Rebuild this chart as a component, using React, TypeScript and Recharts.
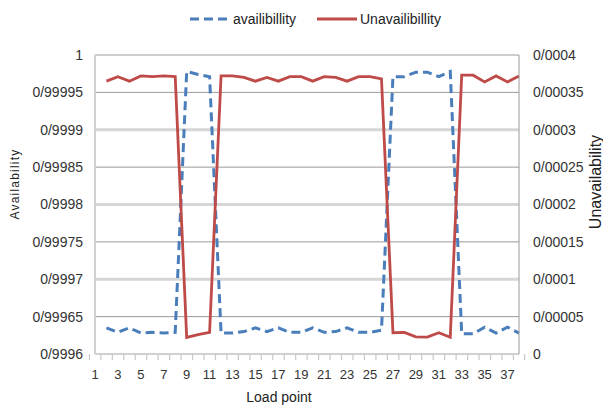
import React from "react";
import { LineChart, Line, XAxis, YAxis, CartesianGrid, ReferenceLine } from "recharts";

const categories = [1, 2, 3, 4, 5, 6, 7, 8, 9, 10, 11, 12, 13, 14, 15, 16, 17, 18, 19, 20, 21, 22, 23, 24, 25, 26, 27, 28, 29, 30, 31, 32, 33, 34, 35, 36, 37, 38];

const availability: (number | null)[] = [
  null, 0.999635, 0.999629, 0.999635, 0.999628, 0.999629, 0.999628, 0.999629,
  0.999978, 0.999974, 0.999971, 0.999628, 0.999628, 0.99963, 0.999635, 0.99963,
  0.999635, 0.999629, 0.999629, 0.999635, 0.999629, 0.99963, 0.999635, 0.999629,
  0.999629, 0.999632, 0.999971, 0.999971, 0.999977, 0.999977, 0.999971, 0.999978,
  0.999627, 0.999627, 0.999636, 0.999628, 0.999636, 0.999628,
];

const unavailability: (number | null)[] = [
  null, 0.000365, 0.000371, 0.000365, 0.000372, 0.000371, 0.000372, 0.000371,
  0.0000222, 0.000026, 0.000029, 0.000372, 0.000372, 0.00037, 0.000365, 0.00037,
  0.000365, 0.000371, 0.000371, 0.000365, 0.000371, 0.00037, 0.000365, 0.000371,
  0.000371, 0.000368, 0.0000285, 0.000029, 0.000023, 0.0000227, 0.0000285, 0.0000223,
  0.000373, 0.000373, 0.000364, 0.000372, 0.000364, 0.000372,
];

const leftTicks = [0.9996, 0.99965, 0.9997, 0.99975, 0.9998, 0.99985, 0.9999, 0.99995, 1];
const leftTickLabels = ["0/9996", "0/99965", "0/9997", "0/99975", "0/9998", "0/99985", "0/9999", "0/99995", "1"];
const rightTicks = [0, 0.00005, 0.0001, 0.00015, 0.0002, 0.00025, 0.0003, 0.00035, 0.0004];
const rightTickLabels = ["0", "0/00005", "0/0001", "0/00015", "0/0002", "0/00025", "0/0003", "0/00035", "0/0004"];
const heavyGridTicks = [0.9997, 0.9998, 0.9999];

const data = categories.map((c, i) => ({
  cat: c,
  availability: availability[i],
  unavailability: unavailability[i],
}));

const FONT = "'Liberation Sans', Arial, sans-serif";
const BLUE = "#4A7EBB";
const RED = "#BE4B48";

const XTick = (props: any) => {
  const { x, y, payload, index } = props;
  const half = payload && payload.offset ? payload.offset : 5.58;
  const axisY = y - 14;
  const label = Number(payload.value) % 2 === 1 ? String(payload.value) : "";
  const isLast = index === categories.length - 1;
  return (
    <g>
      <line x1={x - half} x2={x - half} y1={axisY} y2={axisY + 6} stroke="#c8c8c8" strokeWidth={1.2} />
      {isLast && <line x1={x + half} x2={x + half} y1={axisY} y2={axisY + 6} stroke="#c8c8c8" strokeWidth={1.2} />}
      {label && (
        <text x={x} y={y + 11} textAnchor="middle" fontSize={13} fontFamily={FONT} fill="#333">
          {label}
        </text>
      )}
    </g>
  );
};

export default function App() {
  return (
    <div style={{ position: "relative", width: 603, height: 406, background: "#fff" }}>
      <style>{"body{margin:0}"}</style>
      <LineChart width={603} height={406} data={data} margin={{ top: 55, right: 0, bottom: 0, left: 0 }}>
        <CartesianGrid yAxisId="left" vertical={false} stroke="#9a9a9a" strokeWidth={1} />
        {heavyGridTicks.map((t) => (
          <ReferenceLine key={t} yAxisId="left" y={t} stroke="#d6d6d6" strokeWidth={3} />
        ))}
        <XAxis
          dataKey="cat"
          type="category"
          interval={0}
          tick={<XTick />}
          tickLine={false}
          tickSize={6}
          tickMargin={8}
          axisLine={{ stroke: "#d0d0d0", strokeWidth: 2 }}
          height={52}
        />
        <YAxis
          yAxisId="left"
          orientation="left"
          width={95}
          domain={[0.9996, 1]}
          ticks={leftTicks}
          interval={0}
          allowDataOverflow
          tickFormatter={(_v: number, i: number) => leftTickLabels[i]}
          tick={{ fontSize: 14, fontFamily: FONT, fill: "#333" }}
          tickLine={false}
          tickSize={6}
          tickMargin={6}
          axisLine={{ stroke: "#d0d0d0", strokeWidth: 2 }}
        />
        <YAxis
          yAxisId="right"
          orientation="right"
          width={84}
          domain={[0, 0.0004]}
          ticks={rightTicks}
          interval={0}
          allowDataOverflow
          tickFormatter={(_v: number, i: number) => rightTickLabels[i]}
          tick={{ fontSize: 14, fontFamily: FONT, fill: "#333", textAnchor: "start" }}
          tickLine={false}
          tickSize={6}
          tickMargin={8}
          axisLine={{ stroke: "#9a9a9a", strokeWidth: 1 }}
        />
        <Line
          yAxisId="left"
          type="linear"
          dataKey="availability"
          stroke={BLUE}
          strokeWidth={3}
          strokeDasharray="9 5"
          dot={false}
          isAnimationActive={false}
        />
        <Line
          yAxisId="right"
          type="linear"
          dataKey="unavailability"
          stroke={RED}
          strokeWidth={2.8}
          dot={false}
          isAnimationActive={false}
        />
        <text x={15} y={184} transform="rotate(-90 15 184)" textAnchor="middle" dominantBaseline="central" fontSize={12} letterSpacing={1.2} fontFamily={FONT} fill="#222">
          Availability
        </text>
        <text x={595} y={182} transform="rotate(-90 595 182)" textAnchor="middle" dominantBaseline="central" fontSize={16} fontFamily={FONT} fill="#222">
          Unavailability
        </text>
        <text x={279} y={397} textAnchor="middle" dominantBaseline="central" fontSize={14} fontFamily={FONT} fill="#222">
          Load point
        </text>
      </LineChart>
      <div
        style={{
          position: "absolute",
          top: 10,
          left: 0,
          width: 603,
          height: 20,
          fontFamily: FONT,
          fontSize: 14,
          color: "#222",
        }}
      >
        <svg width={603} height={20} style={{ position: "absolute", left: 0, top: 0 }}>
          <line x1={190} x2={229} y1={9} y2={9} stroke={BLUE} strokeWidth={3} strokeDasharray="9 5" />
          <line x1={317} x2={357} y1={9} y2={9} stroke={RED} strokeWidth={2.8} />
        </svg>
        <span style={{ position: "absolute", left: 233, top: 1, lineHeight: "16px" }}>availibillity</span>
        <span style={{ position: "absolute", left: 360, top: 1, lineHeight: "16px" }}>Unavailibillity</span>
      </div>
    </div>
  );
}
